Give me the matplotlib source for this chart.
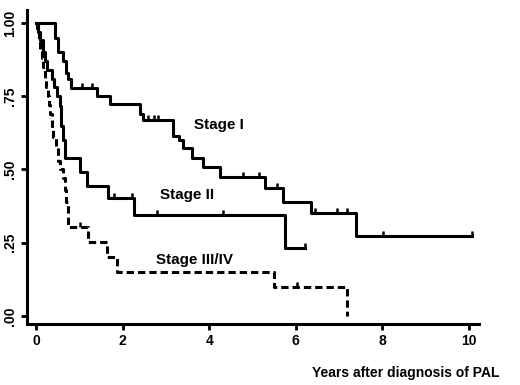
import numpy as np
import matplotlib.pyplot as plt

# Stage I (solid)
t1 = [0, 0.44, 0.50, 0.63, 0.68, 0.73, 0.80, 1.41, 1.70, 2.40, 2.48, 3.16,
      3.31, 3.40, 3.59, 3.85, 4.25, 5.29, 5.70, 6.34, 7.40, 10.06]
s1 = [1.0, 0.95, 0.90, 0.87, 0.83, 0.81, 0.778, 0.749, 0.722, 0.69, 0.668, 0.613,
      0.60, 0.575, 0.539, 0.507, 0.476, 0.436, 0.389, 0.351, 0.274, 0.274]
c1 = [1.05, 1.28, 2.59, 2.72, 2.82, 4.79, 5.14, 5.57, 6.44, 6.94, 7.19, 8.02, 10.06]

# Stage II (solid)
t2 = [0, 0.05, 0.10, 0.15, 0.20, 0.26, 0.37, 0.42, 0.48, 0.55, 0.58, 0.62,
      0.67, 1.02, 1.17, 1.65, 2.25, 5.75, 6.21]
s2 = [1.0, 0.97, 0.94, 0.90, 0.87, 0.84, 0.81, 0.78, 0.75, 0.715, 0.65, 0.60,
      0.54, 0.49, 0.445, 0.404, 0.345, 0.231, 0.231]
c2 = [1.79, 2.22, 2.80, 4.31, 6.21]

# Stage III/IV (dashed)
t3 = [0, 0.03, 0.06, 0.10, 0.13, 0.17, 0.21, 0.24, 0.27, 0.30, 0.33, 0.37,
      0.40, 0.45, 0.51, 0.55, 0.61, 0.66, 0.70, 0.74, 1.21, 1.63, 1.86, 5.49, 7.19]
s3 = [1.0, 0.97, 0.94, 0.91, 0.88, 0.85, 0.81, 0.78, 0.75, 0.72, 0.69, 0.64,
      0.61, 0.58, 0.53, 0.50, 0.47, 0.43, 0.39, 0.305, 0.254, 0.203, 0.152, 0.10, 0.0]
c3 = [1.02, 6.02]

xticks = [0, 2, 4, 6, 8, 10]
yticks = [0, 0.25, 0.5, 0.75, 1.0]
ylabels = [".00", ".25", ".50", ".75", "1.00"]

plt.rcParams['font.family'] = ['Liberation Sans', 'DejaVu Sans']
plt.rcParams['font.weight'] = 'bold'

fig = plt.figure(figsize=(5.2, 3.85), dpi=100)
ax = fig.add_axes([27/520, 1-324/385, (479-27)/520, (324-10)/385])

def surv_at(t, s, times):
    t = np.array(t); s = np.array(s)
    idx = np.searchsorted(t, times, side='right') - 1
    return s[idx]

tick_marker = [(0, 0), (0, 1)]
lw = 2.2
ax.step(t1, s1, where='post', color='black', lw=lw)
ax.plot(c1, surv_at(t1, s1, c1), ls='none', marker=tick_marker, ms=7, mew=1.8, color='black')
ax.step(t2, s2, where='post', color='black', lw=lw)
ax.plot(c2, surv_at(t2, s2, c2), ls='none', marker=tick_marker, ms=7, mew=1.8, color='black')
ax.step(t3, s3, where='post', color='black', lw=lw, ls=(0, (2.4, 1.3)))
ax.plot(c3, surv_at(t3, s3, c3), ls='none', marker=tick_marker, ms=7, mew=1.8, color='black')

ax.text(4.23, 0.652, "Stage I", fontsize=11, fontweight='bold', ha='center', va='center')
ax.text(3.48, 0.413, "Stage II", fontsize=11, fontweight='bold', ha='center', va='center')
ax.text(3.67, 0.191, "Stage III/IV", fontsize=11, fontweight='bold', ha='center', va='center')

ax.set_xlim(-0.21, 10.23)
ax.set_ylim(-0.027, 1.044)
ax.set_xticks(xticks)
ax.set_xticklabels([str(x) for x in xticks], fontsize=10, fontweight='bold')
ax.set_yticks(yticks)
ax.set_yticklabels(ylabels, fontsize=10, fontweight='bold', rotation=90, va='center')
ax.tick_params(direction='out', length=4, width=2, pad=3)
for side in ['top', 'right']:
    ax.spines[side].set_visible(False)
for side in ['left', 'bottom']:
    ax.spines[side].set_linewidth(2.2)

fig.text(312/520, 1-372.7/385, "Years after diagnosis of PAL", fontsize=10,
         fontweight='bold', ha='left', va='center')

fig.savefig("out.png", dpi=100)
